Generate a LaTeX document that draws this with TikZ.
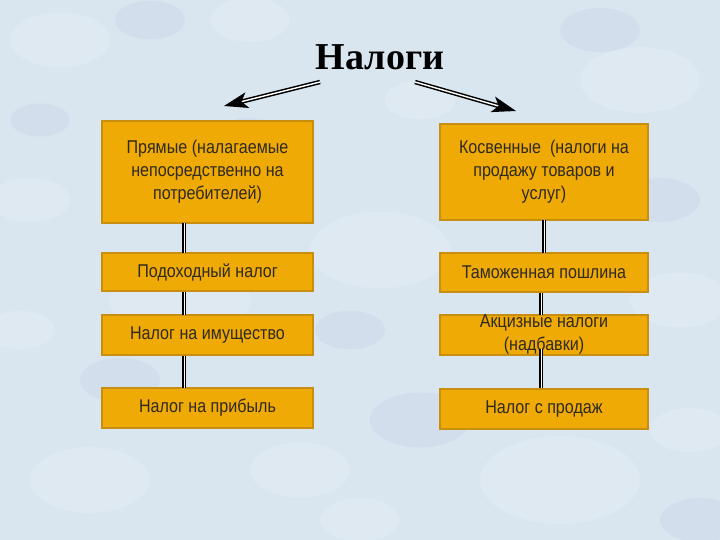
\documentclass[tikz,border=0pt]{standalone}
\usepackage{fontspec}
\setmainfont{Liberation Sans}
\newfontfamily\boxfont[FakeStretch=0.87]{Liberation Sans}
\newfontfamily\titlefont{Liberation Serif}
\usetikzlibrary{arrows.meta}
\definecolor{bg}{HTML}{D9E6F0}
\definecolor{boxfill}{HTML}{F0AA05}
\definecolor{boxline}{HTML}{C88E10}
\definecolor{txt}{HTML}{2E2A20}
\tikzset{
  taxbox/.style={draw=boxline, line width=1.2pt, fill=boxfill, text=txt,
    font=\boxfont\fontsize{18.5}{23}\selectfont, align=center, inner sep=0pt},
  link/.style={draw=black, line width=1.5pt, double=white, double distance=0.8pt},
  bigarrow/.style={draw=black, line width=1.5pt, double=white, double distance=1.4pt,
    -{Stealth[length=24pt,width=16pt,inset=6pt]}}
}
\begin{document}
\begin{tikzpicture}[x=1pt,y=-1pt]
\useasboundingbox (0,0) rectangle (720,540);
\fill[bg] (0,0) rectangle (720,540);
\begin{scope}
\foreach \x/\y/\r in {60/40/50,180/300/70,640/80/60,560/480/80,90/480/60,380/250/70,300/470/50,680/300/50,30/200/40,480/180/40,250/20/40,420/100/35,690/430/40,20/330/35,360/520/40}{
  \fill[white, opacity=0.14] (\x,\y) ellipse ({\r} and {0.55*\r});
}
\foreach \x/\y/\r in {250/140/40,420/420/50,660/200/40,120/380/40,350/330/35,600/30/40,40/120/30,700/520/40,150/20/35}{
  \fill[blue!30!gray, opacity=0.05] (\x,\y) ellipse ({\r} and {0.55*\r});
}
\end{scope}

\node[font=\titlefont\bfseries\fontsize{38}{42}\selectfont, text=black] (title) at (380,57) {Налоги};

% left column
\node[taxbox, minimum width=211pt, minimum height=102pt] (l1) at (207.5,172) {Прямые (налагаемые\\непосредственно на\\потребителей)};
\node[taxbox, minimum width=211pt, minimum height=38pt] (l2) at (207.5,272) {Подоходный налог};
\node[taxbox, minimum width=211pt, minimum height=40pt] (l3) at (207.5,335) {Налог на имущество};
\node[taxbox, minimum width=211pt, minimum height=40pt] (l4) at (207.5,408) {Налог на прибыль};

% right column
\node[taxbox, minimum width=208pt, minimum height=96pt] (r1) at (544,172) {Косвенные \ (налоги на\\продажу товаров и\\услуг)};
\node[taxbox, minimum width=208pt, minimum height=39pt] (r2) at (544,272.5) {Таможенная пошлина};
\node[taxbox, minimum width=208pt, minimum height=40pt] (r3) at (544,335) {Акцизные налоги\\(надбавки)};
\node[taxbox, minimum width=208pt, minimum height=40pt] (r4) at (544,409) {Налог с продаж};

\coordinate (ra) at (320,82);
\coordinate (rb) at (415,82);
\coordinate (lt) at (224,106);
\coordinate (rt) at (516,111);
\coordinate (r3in) at (541,349);

% connectors
\draw[link] (184,223.5) -- (184,252.5);
\draw[link] (184,291.5) -- (184,314.5);
\draw[link] (184,355.5) -- (184,387.5);
\draw[link] (544,220.5) -- (544,252.5);
\draw[link] (541,292.5) -- (541,314.5);
\draw[link] (r3in) -- (r3in |- r4.north);

\draw[bigarrow] (ra) -- (lt);
\draw[bigarrow] (rb) -- (rt);
\end{tikzpicture}
\end{document}
